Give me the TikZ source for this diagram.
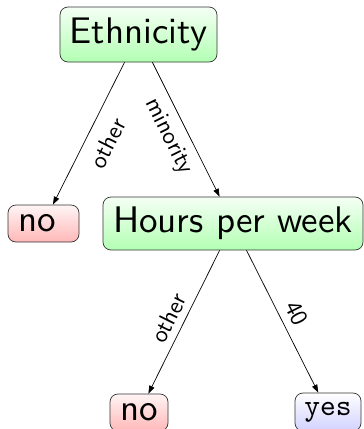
\documentclass[tikz,border=0pt]{standalone}
\usepackage{fontspec}
\setsansfont{lmsans10-regular.otf}
\setmonofont{lmmono10-regular.otf}
\usetikzlibrary{arrows.meta}
\tikzset{
  boxnode/.style={draw=black!80, line width=0.7pt, rounded corners=8pt, inner sep=0pt,
    font=\sffamily\fontsize{37}{44}\selectfont},
  greenbox/.style={boxnode, top color=green!4, bottom color=green!30},
  redbox/.style={boxnode, top color=red!4, bottom color=red!28},
  bluebox/.style={boxnode, top color=white, bottom color=blue!18},
  edge/.style={draw=black, line width=0.7pt, -{Triangle[length=8pt,width=5.5pt]}},
  elabel/.style={midway, sloped, anchor=center, inner sep=0pt,
    font=\sffamily\fontsize{24}{28}\selectfont}
}
\begin{document}
\begin{tikzpicture}[x=1pt, y=-1pt]
\useasboundingbox (0,0) rectangle (364,429);
\node[greenbox, minimum width=157pt, minimum height=55pt] (eth) at (138.5,34.5) {Ethnicity};
\node[redbox, minimum width=71pt, minimum height=37pt] (no1) at (43.5,223.5) {no\kern12pt};
\node[greenbox, minimum width=260pt, minimum height=53pt] (hpw) at (233,223.5) {Hours per week};
\node[redbox, minimum width=58pt, minimum height=37pt] (no2) at (139,412.5) {no};
\node[bluebox, minimum width=66pt, minimum height=38pt, font=\ttfamily\fontsize{30}{36}\selectfont] (yes) at (328,412) {yes};
\draw[edge] (eth) -- (no1) node[elabel, pos=0.5, yshift=-21.5pt] {other};
\draw[edge] (eth) -- (hpw) node[elabel, pos=0.49, yshift=-19pt] {minority};
\draw[edge] (hpw) -- (no2) node[elabel, pos=0.52, yshift=15.5pt] {other};
\draw[edge] (hpw) -- (yes) node[elabel, pos=0.495, yshift=16.5pt] {40};
\end{tikzpicture}
\end{document}
